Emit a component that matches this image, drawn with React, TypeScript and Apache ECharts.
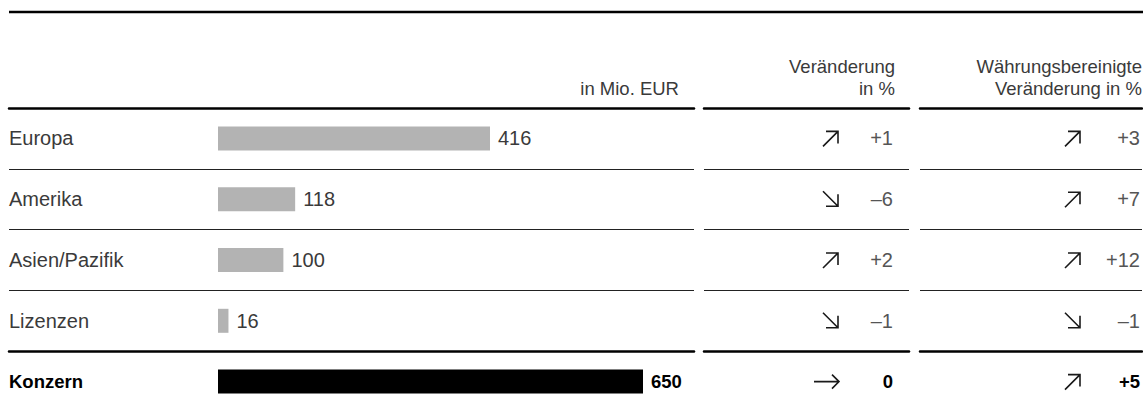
import React, { useEffect, useRef } from "react";
import * as echarts from "echarts";

// ---- data ----
const regions = ["Europa", "Amerika", "Asien/Pazifik", "Lizenzen", "Konzern"];
const revenue = [416, 118, 100, 16, 650]; // in Mio. EUR
const changePct = [1, -6, 2, -1, 0]; // Veränderung in %
const changeDir = ["up", "down", "up", "down", "flat"];
const fxChangePct = [3, 7, 12, -1, 5]; // Währungsbereinigte Veränderung in %
const fxChangeDir = ["up", "up", "up", "down", "up"];
const headerRevenue = "in Mio. EUR";
const headerChange = "Veränderung\nin %";
const headerFxChange = "Währungsbereinigte\nVeränderung in %";

// ---- style ----
const FONT = "Liberation Sans";
const FS = 20;
const HFS = 18.5;
const TEXT = "#3a3a3a";
const VAL = "#555555";
const BAR = "#b3b3b3";
const TOTAL = 4;
const TOP = 108;
const ROW = 60.8;
const thin = { color: "#222222", width: 1.2 };
const thick = { color: "#000000", width: 2.5 };

const svgUri = (w: number, h: number, d: string) =>
  "data:image/svg+xml;charset=utf-8," +
  encodeURIComponent(
    `<svg xmlns="http://www.w3.org/2000/svg" width="${w}" height="${h}" viewBox="0 0 ${w} ${h}"><path d="${d}" fill="none" stroke="#1a1a1a" stroke-width="1.6" stroke-linecap="butt" stroke-linejoin="miter"/></svg>`
  );
const arrowImg = {
  up: svgUri(20, 20, "M2 18 L17 3 M5 3 H17 V15"),
  down: svgUri(20, 20, "M2 2 L17 17 M17 5 V17 H5"),
  flat: svgUri(28, 20, "M1 10 H26 M19 3 L26 10 L19 17"),
};

const fmt = (v: number) => (v > 0 ? `+${v}` : v < 0 ? `–${Math.abs(v)}` : "0");

const frameX = (gridIndex: number) => [
  {
    gridIndex,
    type: "value",
    min: 0,
    max: 1,
    position: "top",
    axisLine: { show: true, onZero: false, lineStyle: thick },
    axisTick: { show: false },
    axisLabel: { show: false },
    splitLine: { show: false },
  },
  {
    gridIndex,
    type: "value",
    min: 0,
    max: 1,
    position: "bottom",
    offset: -ROW,
    axisLine: { show: true, onZero: false, lineStyle: thick },
    axisTick: { show: false },
    axisLabel: { show: false },
    splitLine: { show: false },
  },
];

const changeAxis = (
  gridIndex: number,
  values: number[],
  dirs: string[],
  margin: number,
  valueWidth: number
) => ({
  gridIndex,
  type: "category",
  data: regions,
  inverse: true,
  position: "right",
  axisLine: { show: false },
  axisTick: { show: false },
  splitLine: { show: true, interval: 0, lineStyle: thin },
  axisLabel: {
    inside: true,
    interval: 0,
    margin,
    align: "right",
    formatter: (_v: string, i: number) =>
      `{${dirs[i]}|}{${i === TOTAL ? "vb" : "v"}|${fmt(values[i])}}`,
    rich: {
      up: { width: 20, height: 20, backgroundColor: { image: arrowImg.up } },
      down: { width: 20, height: 20, backgroundColor: { image: arrowImg.down } },
      flat: { width: 28, height: 20, backgroundColor: { image: arrowImg.flat } },
      v: { width: valueWidth, align: "right", fontFamily: FONT, fontSize: FS, color: VAL },
      vb: { width: valueWidth, align: "right", fontFamily: FONT, fontWeight: "bold", fontSize: HFS, color: "#000" },
    },
  },
});

const option: any = {
  animation: false,
  backgroundColor: "#ffffff",
  grid: [
    { left: 9, top: TOP, width: 685, height: ROW * 5 },
    { left: 218, top: TOP, width: 476, height: ROW * 5 },
    { left: 704, top: TOP, width: 205, height: ROW * 5 },
    { left: 920, top: TOP, width: 223, height: ROW * 5 },
  ],
  xAxis: [
    ...frameX(0),
    { gridIndex: 1, type: "value", min: 0, max: 728, show: false },
    ...frameX(2),
    ...frameX(3),
  ],
  yAxis: [
    {
      gridIndex: 0,
      type: "category",
      data: regions,
      inverse: true,
      axisLine: { show: false },
      axisTick: { show: false },
      splitLine: { show: true, interval: 0, lineStyle: thin },
      axisLabel: {
        inside: true,
        interval: 0,
        margin: 0,
        align: "left",
        fontFamily: FONT,
        fontSize: FS,
        color: TEXT,
        formatter: (v: string, i: number) => (i === TOTAL ? `{b|${v}}` : v),
        rich: { b: { fontFamily: FONT, fontWeight: "bold", fontSize: HFS, color: "#000" } },
      },
    },
    { gridIndex: 1, type: "category", data: regions, inverse: true, show: false },
    changeAxis(2, changePct, changeDir, 16, 52),
    changeAxis(3, fxChangePct, fxChangeDir, 2, 57),
  ],
  series: [
    {
      type: "bar",
      xAxisIndex: 2,
      yAxisIndex: 1,
      barWidth: 24,
      data: revenue.map((v, i) =>
        i === TOTAL
          ? { value: v, itemStyle: { color: "#000" }, label: { fontWeight: "bold", fontSize: HFS, color: "#000" } }
          : { value: v, itemStyle: { color: BAR } }
      ),
      label: {
        show: true,
        position: "right",
        distance: 8,
        fontFamily: FONT,
        fontSize: FS,
        color: TEXT,
      },
    },
  ],
  graphic: [
    {
      type: "line",
      shape: { x1: 9, y1: 12, x2: 1143, y2: 12 },
      style: { stroke: "#000", lineWidth: 2.5 },
    },
    {
      type: "text",
      x: 679,
      y: 77,
      style: {
        text: headerRevenue,
        align: "right",
        verticalAlign: "top",
        lineHeight: 22,
        font: `${HFS}px "${FONT}"`,
        fill: TEXT,
      },
    },
    {
      type: "text",
      x: 895,
      y: 55,
      style: {
        text: headerChange,
        align: "right",
        verticalAlign: "top",
        lineHeight: 22,
        font: `${HFS}px "${FONT}"`,
        fill: TEXT,
      },
    },
    {
      type: "text",
      x: 1142,
      y: 55,
      style: {
        text: headerFxChange,
        align: "right",
        verticalAlign: "top",
        lineHeight: 22,
        font: `${HFS}px "${FONT}"`,
        fill: TEXT,
      },
    },
  ],
};

export default function App() {
  const ref = useRef<HTMLDivElement>(null);
  useEffect(() => {
    const chart = echarts.init(ref.current!, null, { renderer: "svg" });
    chart.setOption(option);
    return () => chart.dispose();
  }, []);
  return (
    <div
      style={{
        position: "absolute",
        left: 0,
        top: 0,
        width: 1143,
        height: 405,
        overflow: "hidden",
        background: "#fff",
      }}
    >
      <div ref={ref} style={{ width: 1143, height: 420 }} />
    </div>
  );
}
